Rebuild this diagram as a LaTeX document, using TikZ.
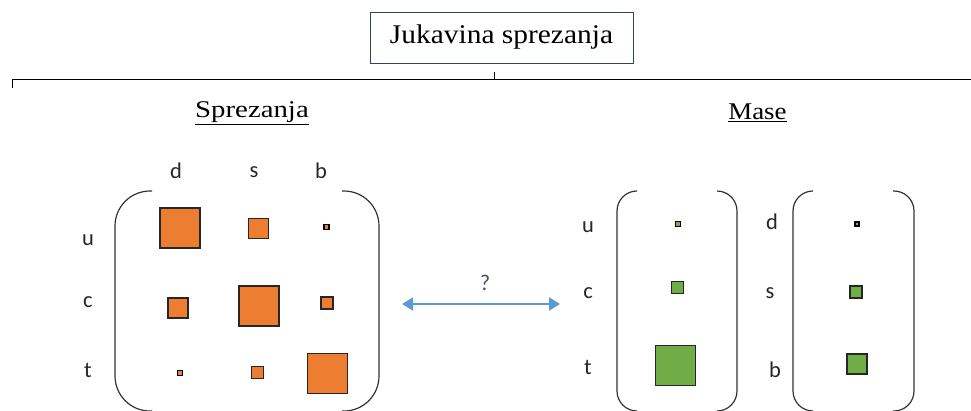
\documentclass[tikz,border=0pt]{standalone}
\usepackage{fontspec}
\setmainfont{Liberation Serif}
\newfontfamily\lblfont{Carlito}
\usetikzlibrary{arrows.meta}
\definecolor{qorange}{HTML}{ED7D31}
\definecolor{qgreen}{HTML}{70AD47}
\definecolor{qblue}{HTML}{5B9BD5}
\definecolor{qslate}{HTML}{44546A}
\tikzset{
  lbl/.style={font=\lblfont\fontsize{22.5}{24}\selectfont, text=black!85, inner sep=0pt},
  head/.style={font=\fontsize{24}{28}\selectfont, inner sep=0pt},
  osq/.style={draw=black!85, fill=qorange, minimum size=#1, inner sep=0pt, line width=1pt},
  gsq/.style={draw=black!85, fill=qgreen, minimum size=#1, inner sep=0pt, line width=1pt},
  thick border/.style={line width=2pt},
  tiny border/.style={line width=1.7pt, draw=black},
  bracket/.style={draw=black!80, line width=1.2pt},
  rule/.style={draw=black, line width=1pt}
}
\newcommand{\ulword}[1]{\underline{#1}}
\begin{document}
\begin{tikzpicture}[x=1pt,y=-1pt]
\useasboundingbox (0,0) rectangle (971,410);
% title
\node[draw=qslate!80!black, line width=1pt, minimum width=263pt, minimum height=51pt, inner sep=0pt,
      font=\fontsize{27}{30}\selectfont] (title) at (501.5,37.5) {\raisebox{-2pt}{\scalebox{1.09}[1]{Jukavina sprezanja}}};
% rule
\coordinate (rl) at (12,79);
\coordinate (rlt) at (12,88);
\coordinate (rr) at (971,79);
\coordinate (tk) at (494,79);
\coordinate (tkt) at (494,72);
\draw[rule] (rlt) -- (rl) -- (rr);
\draw[rule] (tk) -- (tkt);
% headings
\node[head] (hs) at (252,113) {\scalebox{1.2}[1]{\ulword{Sprezanja}}};
\node[head] (hm) at (757.5,113) {\scalebox{1.12}[1]{\ulword{Mase}}};
% left labels
\node[lbl] (ld) at (176,171) {d};
\node[lbl] (ls) at (254,172) {s};
\node[lbl] (lb) at (321,171) {b};
\node[lbl] (lu) at (88,240) {u};
\node[lbl] (lc) at (88,302) {c};
\node[lbl] (lt) at (88,370) {t};
% left brackets
\draw[bracket, rounded corners=35pt] (152,191) -- (115,191) -- (115,411) -- (152,411);
\draw[bracket, rounded corners=35pt] (342,191) -- (379,191) -- (379,411) -- (342,411);
% orange squares
\node[osq=40pt, line width=2.4pt] (ud) at (180,228) {};
\node[osq=20pt] (us) at (258.5,228) {};
\node[osq=5pt, tiny border] (ub) at (326.5,227) {};
\node[osq=20pt, thick border] (cd) at (178,308) {};
\node[osq=40pt, thick border] (cs) at (259,305.5) {};
\node[osq=12pt, thick border] (cb) at (327,302.5) {};
\node[osq=5pt, tiny border] (td) at (180,373) {};
\node[osq=12pt] (ts) at (257,372.5) {};
\node[osq=40pt] (tb) at (327,373) {};
% arrow
\coordinate (al) at (402,304);
\coordinate (ar) at (560,304);
\draw[qblue, line width=2pt, {Triangle[length=11pt,width=13pt]}-{Triangle[length=11pt,width=13pt]}] (al) -- (ar);
\node[lbl, text=qslate] (q) at (485,283) {?};
% right labels
\node[lbl] (ru) at (588,227) {u};
\node[lbl] (rc) at (588,293) {c};
\node[lbl] (rt) at (588,367) {t};
\node[lbl] (rd) at (772,222) {d};
\node[lbl] (rs) at (770,293) {s};
\node[lbl] (rb) at (775,370) {b};
% right brackets
\draw[bracket, rounded corners=20pt] (636,191) -- (617,191) -- (617,411) -- (636,411);
\draw[bracket, rounded corners=20pt] (717,191) -- (737,191) -- (737,411) -- (717,411);
\draw[bracket, rounded corners=20pt] (813,191) -- (793,191) -- (793,411) -- (813,411);
\draw[bracket, rounded corners=20pt] (893,191) -- (914,191) -- (914,411) -- (893,411);
% green squares
\node[gsq=5pt, tiny border] (gu) at (678,224) {};
\node[gsq=12pt, line width=1.5pt] (gc) at (677.5,287.5) {};
\node[gsq=40pt] (gt) at (675.5,365) {};
\node[gsq=4pt, tiny border] (gd) at (857,224) {};
\node[gsq=12pt, thick border] (gs) at (855.5,291.5) {};
\node[gsq=20pt, thick border] (gb) at (856.5,363.5) {};
\end{tikzpicture}
\end{document}
